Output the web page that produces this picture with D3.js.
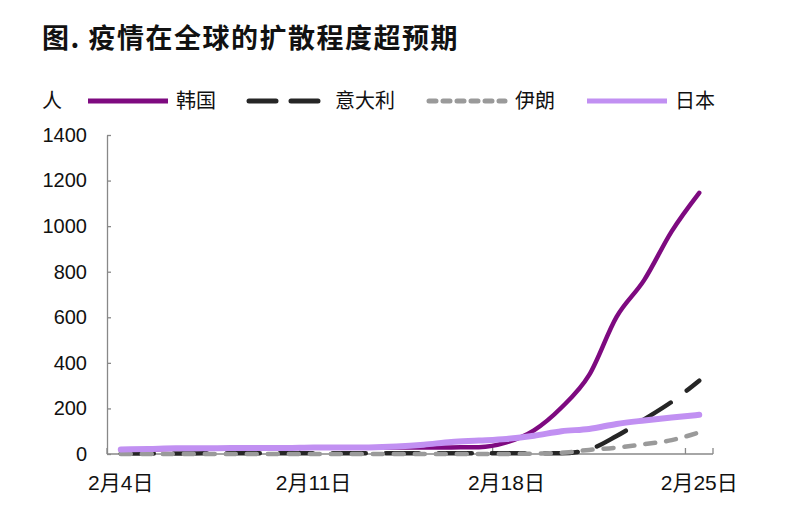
<!DOCTYPE html>
<html><head><meta charset="utf-8">
<script src="https://cdn.jsdelivr.net/npm/d3@7"></script>
<style>
body{margin:0;background:#fff;}
svg{display:block;}
</style></head>
<body><svg id="c" width="800" height="520"></svg>
<script>
const titleText = "图. 疫情在全球的扩散程度超预期";
const unitLabel = "人";
const dates = ["2月4日","2月5日","2月6日","2月7日","2月8日","2月9日","2月10日","2月11日","2月12日","2月13日","2月14日","2月15日","2月16日","2月17日","2月18日","2月19日","2月20日","2月21日","2月22日","2月23日","2月24日","2月25日"];
const xTickLabels = ["2月4日","2月11日","2月18日","2月25日"];
const yTicks = [0,200,400,600,800,1000,1200,1400];
const seriesNames = ["韩国","意大利","伊朗","日本"];
const korea = [16,19,23,24,24,25,27,28,28,28,28,28,29,30,51,104,204,346,602,763,977,1146];
const italy = [2,2,2,3,3,3,3,3,3,3,3,3,3,3,3,3,3,20,79,152,229,322];
const iran  = [0,0,0,0,0,0,0,0,0,0,0,0,0,0,0,2,5,18,28,43,61,95];
const japan = [20,22,25,25,26,26,26,28,28,29,33,41,53,59,66,80,100,110,132,147,160,172];

const svg = d3.select("#c");
const pL = 107, pR = 713, pT = 135, pB = 454;
const x = d3.scaleBand().domain(dates).range([pL, pR]).padding(0);
const y = d3.scaleLinear().domain([0,1400]).range([pB, pT]);
const cx = d => x(d) + x.bandwidth()/2;

// title
svg.append("text").attr("x",42).attr("y",48).attr("font-family","'Noto Sans CJK SC'")
  .attr("font-weight","bold").attr("font-size",27).attr("letter-spacing",1.5).attr("fill","#111").text(titleText);

// y axis
const yAxis = d3.axisLeft(y).tickValues(yTicks).tickFormat(d3.format("d")).tickSize(-4).tickPadding(20).tickSizeOuter(0);
const gy = svg.append("g").attr("transform",`translate(${pL},0)`).call(yAxis);
gy.select(".domain").attr("stroke","#888").attr("stroke-width",1.3);
gy.selectAll(".tick line").attr("stroke","#888").attr("stroke-width",1.3);
gy.selectAll(".tick text").attr("font-family","'Liberation Sans', Arial, sans-serif").attr("font-size",20).attr("fill","#111");

// x axis baseline
svg.append("line").attr("x1",pL).attr("x2",pR).attr("y1",pB).attr("y2",pB)
  .attr("stroke","#888").attr("stroke-width",1.3);
const boundaryTicks = xTickLabels.map(d => x(d)).concat([pR]);
svg.selectAll(".xt").data(boundaryTicks).enter().append("line")
  .attr("x1",d=>d).attr("x2",d=>d).attr("y1",pB).attr("y2",pB-6)
  .attr("stroke","#888").attr("stroke-width",1.3);
svg.selectAll(".xl").data(xTickLabels).enter().append("text")
  .attr("x",d=>cx(d)).attr("y",490).attr("text-anchor","middle")
  .attr("font-family","'Liberation Sans','Noto Sans CJK SC',sans-serif").attr("font-size",21).attr("fill","#111").text(d=>d);

const styles = {
  "韩国": {data: korea, color:"#7e0a80", width:4.5, dash:null},
  "意大利": {data: italy, color:"#262626", width:4.5, dash:"33,20"},
  "伊朗": {data: iran, color:"#9a9a9a", width:4.5, dash:"10,11"},
  "日本": {data: japan, color:"#c190f2", width:6, dash:null}
};
const line = d3.line().x((d,i)=>cx(dates[i])).y(d=>y(d)).curve(d3.curveMonotoneX);
["韩国","意大利","伊朗","日本"].forEach(n=>{
  const s = styles[n];
  svg.append("path").datum(s.data).attr("d",line).attr("fill","none")
    .attr("stroke",s.color).attr("stroke-width",s.width).attr("stroke-linecap","round")
    .attr("stroke-linejoin","round").attr("stroke-dasharray",s.dash);
});

// legend
const legDash = {"韩国":null,"意大利":"27,15","伊朗":"7,7","日本":null};
svg.append("text").attr("x",42).attr("y",108).attr("font-family","'Noto Sans CJK SC'").attr("font-size",20).attr("fill","#111").text(unitLabel);
const legX = [88,247,427,587];
seriesNames.forEach((n,i)=>{
  const s = styles[n];
  svg.append("line").attr("x1",legX[i]+(s.dash?2:0)).attr("x2",legX[i]+(s.dash?78:80)).attr("y1",101).attr("y2",101)
    .attr("stroke",s.color).attr("stroke-width",5).attr("stroke-dasharray",legDash[n])
    .attr("stroke-linecap", s.dash ? "round" : "butt");
  svg.append("text").attr("x",legX[i]+88).attr("y",108).attr("font-family","'Noto Sans CJK SC'")
    .attr("font-size",20).attr("fill","#111").text(n);
});
</script></body></html>
